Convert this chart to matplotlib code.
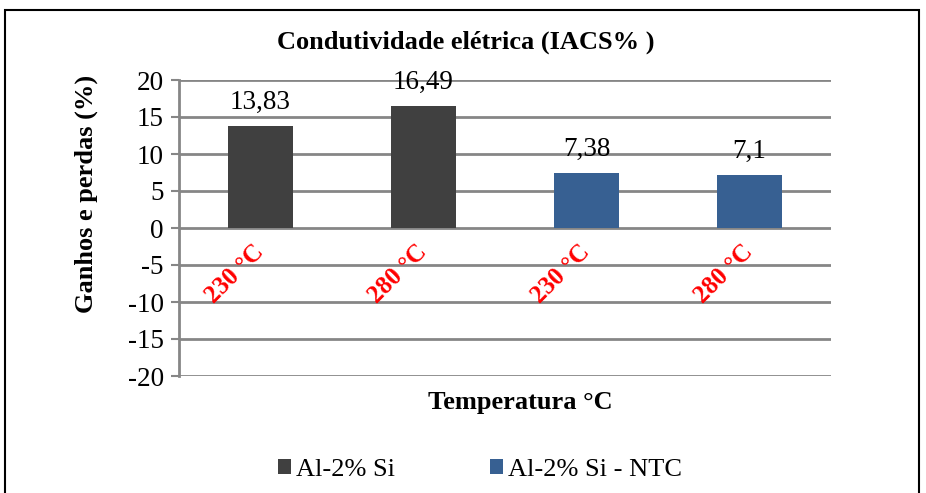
import matplotlib
matplotlib.use("Agg")
import matplotlib.pyplot as plt
from matplotlib.patches import Rectangle, Patch

plt.rcParams['font.family'] = ['Liberation Serif', 'DejaVu Serif']

categories = ["230 °C", "280 °C", "230 °C", "280 °C"]
values = [13.83, 16.49, 7.38, 7.1]
value_labels = ["13,83", "16,49", "7,38", "7,1"]
series_names = ["Al-2% Si", "Al-2% Si - NTC"]
series_index = [0, 0, 1, 1]
colors = ["#404040", "#376092"]
yticks = [-20, -15, -10, -5, 0, 5, 10, 15, 20]

W, H = 926, 493
fig = plt.figure(figsize=(W / 100, H / 100), dpi=100)

# outer frame
fig.patches.append(Rectangle((5 / W, -0.1), (919 - 5) / W, 1.1 - 10 / H,
                             transform=fig.transFigure, fill=False,
                             edgecolor="black", linewidth=1.5))

ax = fig.add_axes([179 / W, 1 - 376 / H, (831 - 179) / W, (376 - 80) / H])
x = list(range(len(categories)))
bar_colors = [colors[i] for i in series_index]
ax.bar(x, values, width=0.4, color=bar_colors, zorder=3)

ax.set_xlim(-0.5, len(categories) - 0.5)
ax.set_ylim(-20, 20)
ax.set_yticks(yticks)
ax.set_yticklabels([str(t) for t in yticks], fontsize=19.5)
ax.yaxis.grid(True, color="#868686", linewidth=2, zorder=0)
ax.set_axisbelow(True)
ax.set_xticks([])
for s in ["top", "right", "bottom"]:
    ax.spines[s].set_visible(False)
ax.spines["left"].set_color("#868686")
ax.spines["left"].set_linewidth(2)
ax.tick_params(axis="y", length=6, width=1.5, color="#868686", pad=5)

for xi, v, lab in zip(x, values, value_labels):
    ax.annotate(lab, (xi, v), xytext=(0, 8), textcoords="offset points",
                ha="center", va="bottom", fontsize=19.5)

for xi, cat in zip(x, categories):
    ax.text(xi, -2.8, cat, rotation=45, rotation_mode="anchor",
            ha="right", va="center", color="red", fontsize=18,
            fontweight="bold")

fig.text(86 / W, 1 - 194 / H, "Ganhos e perdas (%)", rotation=90,
         ha="center", va="center", fontsize=19, fontweight="bold")
fig.text(520 / W, 1 - 402 / H, "Temperatura °C", ha="center", va="center",
         fontsize=19, fontweight="bold")
fig.text(466 / W, 1 - 42 / H, "Condutividade elétrica (IACS% )", ha="center",
         va="center", fontsize=19, fontweight="bold")

handles = [Patch(facecolor=c, edgecolor="none") for c in colors]
fig.legend(handles, series_names, loc="center", bbox_to_anchor=(480 / W, 1 - 470 / H),
           ncol=2, frameon=False, fontsize=19, handlelength=0.5, handleheight=0.5,
           handletextpad=0.2, columnspacing=3.6)

fig.savefig("out.png", dpi=100)
